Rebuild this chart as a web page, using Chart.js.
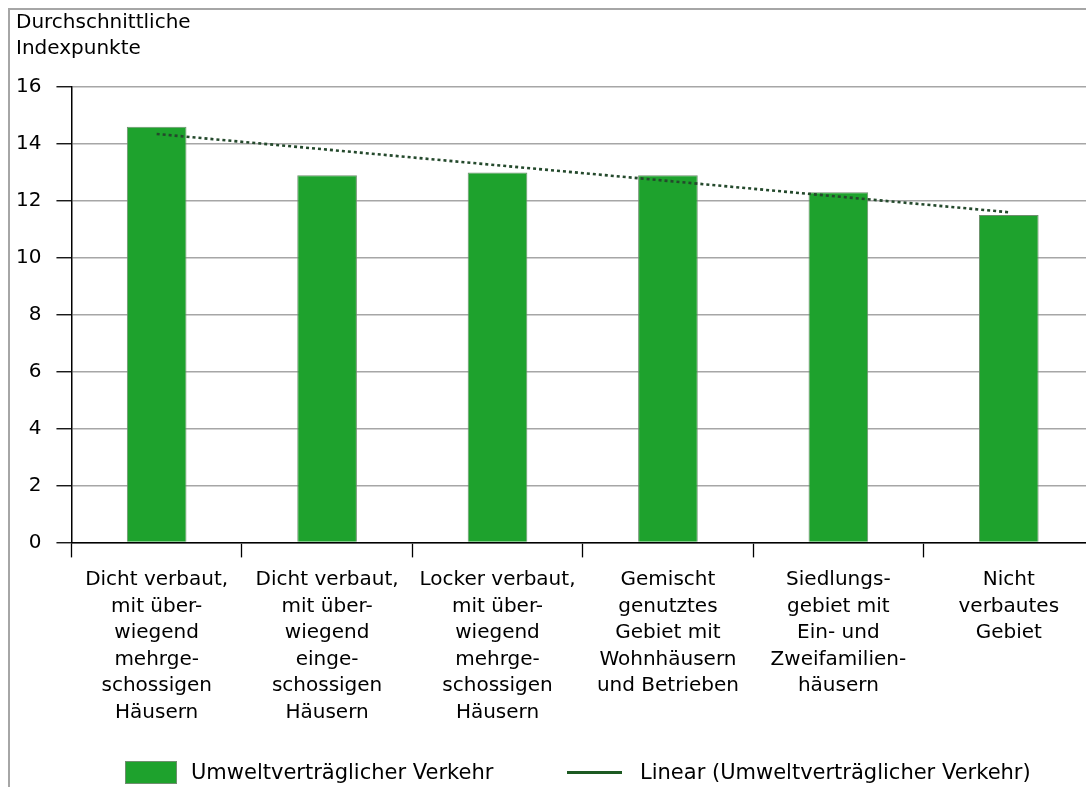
<!DOCTYPE html>
<html lang="de">
<head>
    <meta charset="UTF-8">
    <title>Durchschnittliche Indexpunkte</title>
    <script src="https://cdn.jsdelivr.net/npm/chart.js"></script>
    <style>
        html, body { margin: 0; padding: 0; width: 1086px; height: 787px; overflow: hidden; background: #fff; }
        .frame { position: absolute; left: 8px; top: 8px; width: 1100px; height: 800px;
                 border-left: 2px solid #a6a6a6; border-top: 2px solid #a6a6a6; }
        .chart-wrap { position: absolute; left: 10px; top: 10px; width: 1084px; height: 777px; }
        #legend { position: absolute; left: 0; top: 757px; width: 1086px; height: 30px;
                  font-family: "DejaVu Sans", sans-serif; font-size: 21px; color: #000; }
        .leg-item { position: absolute; top: 0; display: flex; align-items: center; height: 30px; white-space: nowrap; }
        .leg-box { width: 52px; height: 23px; margin-right: 14px; box-sizing: border-box; }
        .leg-line { width: 55px; height: 3px; margin-right: 18px; }
    </style>
</head>
<body>
    <div class="frame"></div>
    <div class="chart-wrap">
        <canvas id="chart"></canvas>
    </div>
    <div id="legend"></div>

    <script>
        // categories (multi-line x labels)
        const categories = [
            ['Dicht verbaut,', 'mit über-', 'wiegend', 'mehrge-', 'schossigen', 'Häusern'],
            ['Dicht verbaut,', 'mit über-', 'wiegend', 'einge-', 'schossigen', 'Häusern'],
            ['Locker verbaut,', 'mit über-', 'wiegend', 'mehrge-', 'schossigen', 'Häusern'],
            ['Gemischt', 'genutztes', 'Gebiet mit', 'Wohnhäusern', 'und Betrieben'],
            ['Siedlungs-', 'gebiet mit', 'Ein- und', 'Zweifamilien-', 'häusern'],
            ['Nicht', 'verbautes', 'Gebiet']
        ];
        const values = [14.6, 12.9, 13.0, 12.9, 12.3, 11.5];
        // trend line at first and last category
        const trendValues = [14.35, null, null, null, null, 11.6];
        const yTicks = [0, 2, 4, 6, 8, 10, 12, 14, 16];
        const yTitle = ['Durchschnittliche', 'Indexpunkte'];
        const barLabel = 'Umweltverträglicher Verkehr';
        const trendLabel = 'Linear (Umweltverträglicher Verkehr)';

        const FONT = '"DejaVu Sans", sans-serif';
        const barColor = '#1ea22d';
        const trendColor = '#24492c';

        const chart = new Chart(document.getElementById('chart'), {
            type: 'bar',
            data: {
                labels: categories,
                datasets: [{
                    label: barLabel,
                    data: values,
                    backgroundColor: barColor,
                    borderColor: '#6f8f6f',
                    borderWidth: 1,
                    barPercentage: 0.35,
                    categoryPercentage: 1.0,
                    order: 2
                }, {
                    type: 'line',
                    label: trendLabel,
                    data: trendValues,
                    spanGaps: true,
                    borderColor: trendColor,
                    borderWidth: 2.6,
                    borderDash: [3, 3],
                    pointRadius: 0,
                    fill: false,
                    order: 1
                }]
            },
            options: {
                responsive: true,
                maintainAspectRatio: false,
                animation: false,
                layout: { padding: { left: 6, right: 0, top: 0, bottom: 52 } },
                plugins: {
                    legend: { display: false },
                    tooltip: { enabled: false },
                    title: {
                        display: true,
                        text: yTitle,
                        align: 'start',
                        color: '#000',
                        font: { family: FONT, size: 20, weight: 'normal', lineHeight: 1.3 },
                        padding: { top: 0, bottom: 25 }
                    }
                },
                scales: {
                    x: {
                        grid: { offset: true, drawOnChartArea: false, tickLength: 15, tickColor: '#000', tickWidth: 1.3 },
                        border: { color: '#000', width: 1.5 },
                        ticks: {
                            color: '#000', autoSkip: false, maxRotation: 0, minRotation: 0, padding: 9,
                            font: { family: FONT, size: 20, lineHeight: 1.33 }
                        }
                    },
                    y: {
                        min: 0,
                        max: 16,
                        afterBuildTicks: (scale) => { scale.ticks = yTicks.map(v => ({ value: v })); },
                        // tick padding is counted twice in the axis width, take the outer half back
                        afterFit: (scale) => { scale.width -= 15; },
                        grid: { color: '#a6a6a6', lineWidth: 1.5, tickLength: 15, tickColor: '#000', tickWidth: 1.3 },
                        border: { color: '#000', width: 1.5 },
                        ticks: { color: '#000', padding: 15, font: { family: FONT, size: 20 } }
                    }
                }
            }
        });

        // html legend built from the datasets
        const legend = document.getElementById('legend');
        const lefts = [125, 567];
        chart.data.datasets.forEach((ds, i) => {
            const item = document.createElement('div');
            item.className = 'leg-item';
            item.style.left = lefts[i] + 'px';
            const sym = document.createElement('span');
            if (ds.type === 'line') {
                sym.className = 'leg-line';
                sym.style.background = '#1d5a22';
            } else {
                sym.className = 'leg-box';
                sym.style.background = ds.backgroundColor;
                sym.style.border = '1px solid ' + ds.borderColor;
            }
            const txt = document.createElement('span');
            txt.textContent = ds.label;
            item.appendChild(sym);
            item.appendChild(txt);
            legend.appendChild(item);
        });
    </script>
</body>
</html>
